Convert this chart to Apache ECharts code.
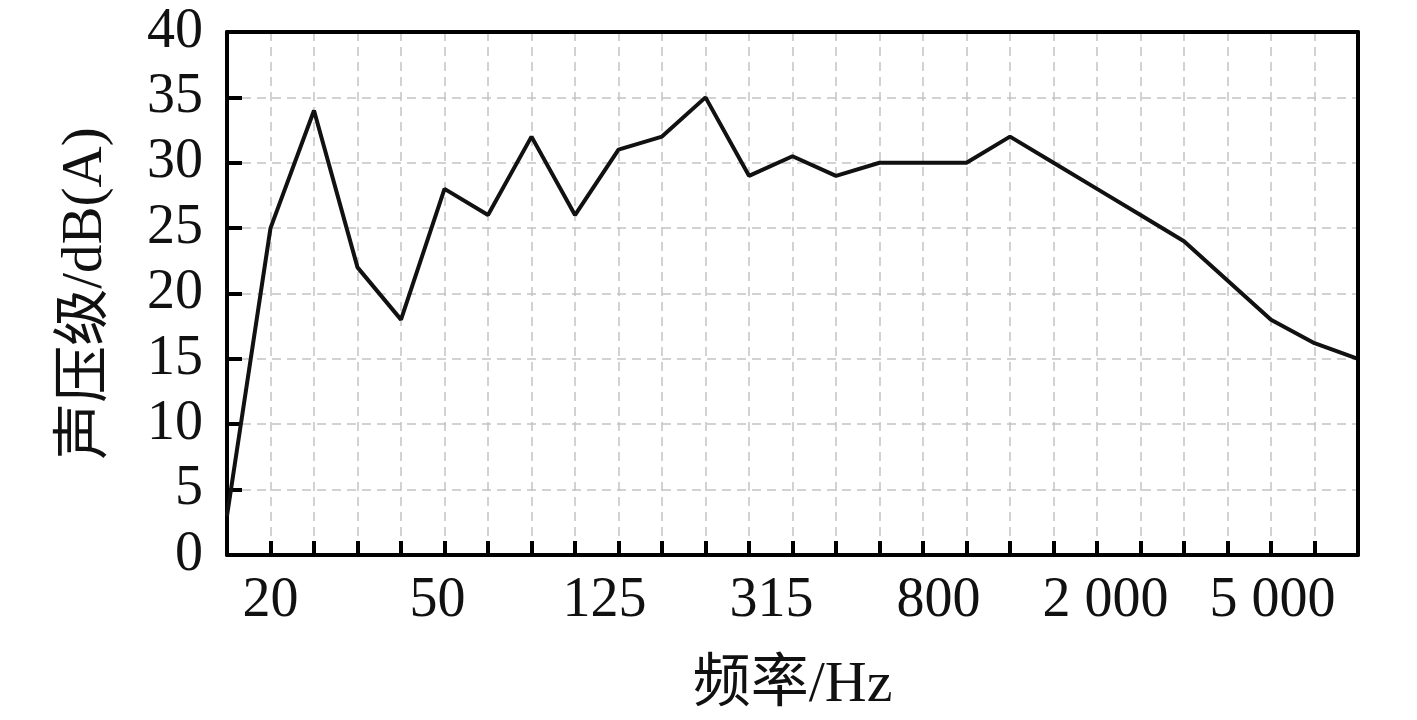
<!DOCTYPE html>
<html>
<head>
<meta charset="utf-8">
<script src="https://cdn.jsdelivr.net/npm/echarts@6/dist/echarts.min.js"></script>
<style>
  html, body { margin: 0; padding: 0; background: #fff; }
  #main { width: 1417px; height: 720px; }
</style>
</head>
<body>
<div id="main"></div>
<script>
// 1/3 倍频程中心频率
var freqs = [16, 20, 25, 31.5, 40, 50, 63, 80, 100, 125, 160, 200, 250, 315, 400,
  500, 630, 800, 1000, 1250, 1600, 2000, 2500, 3150, 4000, 5000, 6300];
// 声压级 dB(A)
var levels = [3, 25, 34, 22, 18, 28, 26, 32, 26, 31, 32, 35, 29, 30.5, 29,
  30, 30, 30, 32, 30, 28, 26, 24, 21, 18, 16.2, 15];
// 只显示这些频率的刻度标签
var shownLabels = [20, 50, 125, 315, 800, 2000, 5000];

var serif = "'Liberation Serif', 'Times New Roman', 'Noto Sans CJK SC', serif";
var dash = { color: '#c4c4c4', width: 1.5, type: [9, 6] };

function fmtFreq(v) {
  var n = Number(v);
  if (n >= 1000) {
    var s = String(n);
    return s.slice(0, s.length - 3) + ' ' + s.slice(s.length - 3);
  }
  return String(v);
}

// 原图标签比刻度略偏左，越往右偏得越多
function labelFor(v, idx) {
  if (shownLabels.indexOf(Number(v)) < 0) return '';
  var k = Math.round(3.5 * (idx - 1));
  return '{a' + k + '|' + fmtFreq(v) + '}';
}
var rich = {};
for (var k = 0; k <= 100; k++) {
  rich['a' + k] = { fontFamily: serif, fontSize: 56, color: '#111', padding: [0, k, 0, 0] };
}

var chart = echarts.init(document.getElementById('main'));

var option = {
  animation: false,
  grid: {
    left: 227,
    right: 59,
    top: 32,
    bottom: 163
  },
  xAxis: [{
    type: 'category',
    boundaryGap: false,
    data: freqs.map(String),
    name: '频率/Hz',
    nameLocation: 'middle',
    nameGap: 102,
    nameTextStyle: { fontFamily: serif, fontSize: 58, color: '#111' },
    axisLine: { onZero: false, lineStyle: { color: '#000', width: 4 } },
    axisTick: {
      inside: true,
      length: 14,
      interval: 0,
      lineStyle: { color: '#000', width: 4 }
    },
    axisLabel: {
      interval: 0,
      margin: 18,
      fontFamily: serif,
      fontSize: 56,
      color: '#111',
      formatter: labelFor,
      rich: rich
    },
    splitLine: { show: true, interval: 0, lineStyle: dash },
    z: 3
  }, {
    type: 'category',
    position: 'top',
    boundaryGap: false,
    data: freqs.map(String),
    axisLine: { onZero: false, lineStyle: { color: '#000', width: 4 } },
    axisTick: { show: false },
    axisLabel: { show: false },
    splitLine: { show: false },
    z: 4
  }],
  yAxis: [{
    type: 'value',
    min: 0,
    max: 40,
    interval: 5,
    name: '声压级/dB(A)',
    nameLocation: 'middle',
    nameGap: 112,
    nameTextStyle: { fontFamily: serif, fontSize: 57, color: '#111' },
    axisLine: { show: true, onZero: false, lineStyle: { color: '#000', width: 4 } },
    axisTick: {
      show: true,
      inside: true,
      length: 15,
      lineStyle: { color: '#000', width: 4 }
    },
    axisLabel: {
      margin: 24,
      fontFamily: serif,
      fontSize: 56,
      color: '#111'
    },
    splitLine: { show: true, lineStyle: dash },
    z: 3
  }, {
    type: 'value',
    position: 'right',
    min: 0,
    max: 40,
    interval: 5,
    axisLine: { show: true, onZero: false, lineStyle: { color: '#000', width: 4 } },
    axisTick: { show: false },
    axisLabel: { show: false },
    splitLine: { show: false },
    z: 4
  }],
  series: [{
    name: '声压级',
    type: 'line',
    data: levels,
    symbol: 'none',
    lineStyle: { color: '#111', width: 4 }
  }]
};

chart.setOption(option);
</script>
</body>
</html>
